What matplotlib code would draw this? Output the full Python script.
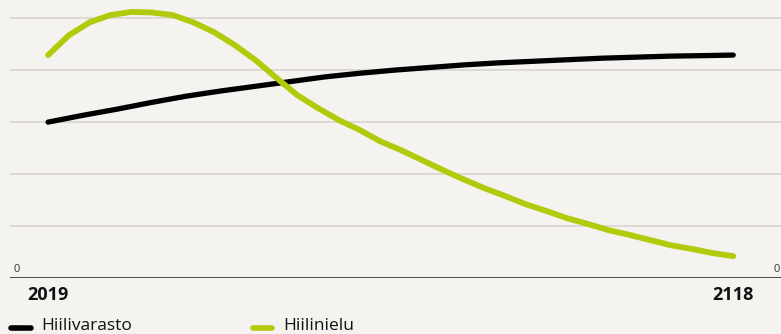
import matplotlib.pyplot as plt
from matplotlib.lines import Line2D

# values (arbitrary units, gridline step = 1)
years_stock = [2019, 2024, 2029, 2034, 2039, 2044, 2049, 2054, 2059, 2064, 2069,
               2074, 2079, 2084, 2089, 2094, 2099, 2104, 2109, 2114, 2118]
stock = [3.00, 3.13, 3.25, 3.38, 3.50, 3.60, 3.69, 3.78, 3.87, 3.94, 4.00,
         4.05, 4.10, 4.14, 4.17, 4.20, 4.23, 4.25, 4.27, 4.28, 4.29]

years_sink = [2019, 2022, 2025, 2028, 2031, 2034, 2037, 2040, 2043, 2046, 2049,
              2052, 2055, 2058, 2061, 2064, 2067, 2070, 2073, 2076, 2079, 2082,
              2085, 2088, 2091, 2094, 2097, 2100, 2103, 2106, 2109, 2112, 2115, 2118]
sink = [4.29, 4.67, 4.92, 5.06, 5.12, 5.11, 5.06, 4.92, 4.73, 4.48, 4.19,
        3.85, 3.52, 3.27, 3.04, 2.85, 2.63, 2.46, 2.27, 2.08, 1.90, 1.73,
        1.58, 1.42, 1.29, 1.15, 1.04, 0.92, 0.83, 0.73, 0.63, 0.56, 0.48, 0.42]

tick_years = [2019, 2118]
series_labels = ["Hiilivarasto", "Hiilinielu"]

BG = '#f5f3f0'
BLACK = '#000000'
GREEN = '#b3c90c'

plt.rcParams['font.family'] = ['Open Sans', 'DejaVu Sans']

fig = plt.figure(figsize=(7.81, 3.34), dpi=100, facecolor=BG)
W, H = 781, 334
ax = fig.add_axes([10 / W, 1 - 278 / H, 1 - 10 / W, 278 / H])
ax.set_facecolor(BG)

ax.plot(years_stock, stock, color=BLACK, lw=3.8, solid_capstyle='round',
        solid_joinstyle='round', zorder=3)
ax.plot(years_sink, sink, color=GREEN, lw=4.2, solid_capstyle='round',
        solid_joinstyle='round', zorder=3)

ax.set_xlim(2013.5, 2124.9)
ax.set_ylim(0, 5.35)

for v in [1, 2, 3, 4, 5]:
    ax.axhline(v, color='#d6d3cf', lw=1.1, zorder=1)
ax.axhline(0, color='#3a3a3a', lw=1.3, zorder=2)

for s in ax.spines.values():
    s.set_visible(False)
ax.set_yticks([])
ax.set_xticks(tick_years)
ax.set_xticklabels([str(y) for y in tick_years], fontsize=13,
                   fontweight='bold', color='#111111')
ax.tick_params(axis='x', length=0, pad=6)

# zero labels on both sides
ax.text(0.004, 0.012, "0", transform=ax.transAxes, fontsize=8, color='#333333',
        ha='left', va='bottom')
ax.text(0.998, 0.012, "0", transform=ax.transAxes, fontsize=8, color='#333333',
        ha='right', va='bottom')

# legend drawn by hand at the bottom edge
ly = 1 - 327.5 / H
for x0, x1, tx, c, lab in [(11, 31, 41, BLACK, series_labels[0]),
                           (253, 272, 283, GREEN, series_labels[1])]:
    fig.add_artist(Line2D([x0 / W, x1 / W], [ly, ly], transform=fig.transFigure,
                          color=c, lw=4, solid_capstyle='round'))
    fig.text(tx / W, 4.5 / H, lab, fontsize=12.5, color='#111111',
             ha='left', va='baseline')

fig.savefig('out.png', dpi=100, facecolor=BG)
